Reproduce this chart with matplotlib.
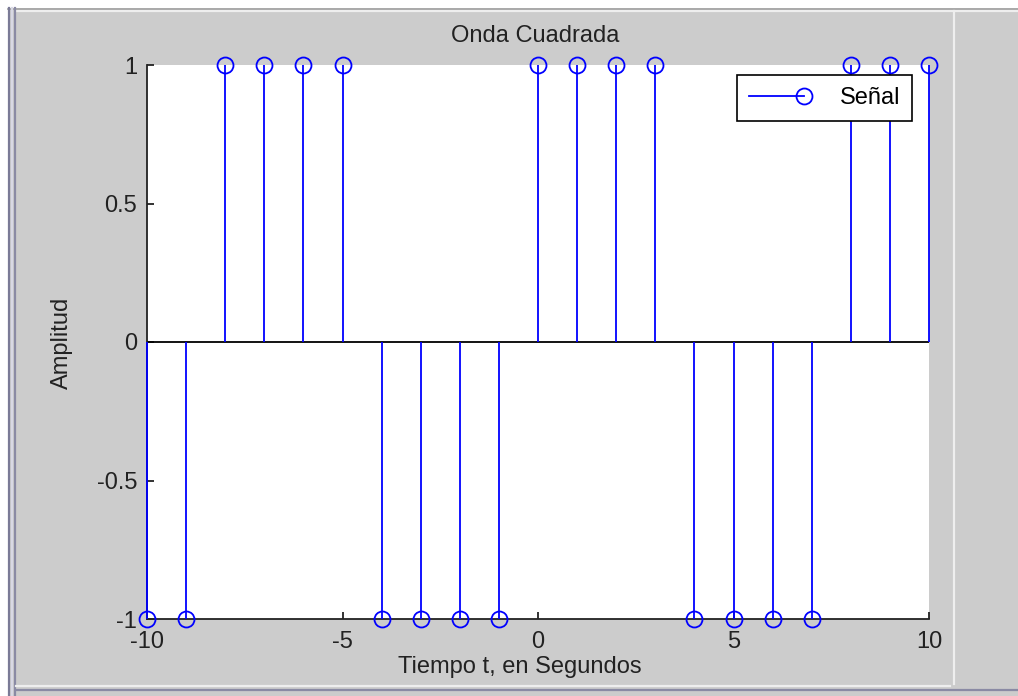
import numpy as np
import matplotlib.pyplot as plt
from matplotlib.lines import Line2D

# muestras de la onda cuadrada
t = np.arange(-10, 11)
senal = [-1, -1, 1, 1, 1, 1, -1, -1, -1, -1, 1, 1, 1, 1, -1, -1, -1, -1, 1, 1, 1]

plt.rcParams['font.family'] = ['Liberation Sans', 'DejaVu Sans']
txt = '#222222'

W, H = 1018, 696
fig = plt.figure(figsize=(W / 100, H / 100), dpi=100, facecolor='#cccccc')

# marco de la ventana
def hline(y, x0, x1, c, lw=1):
    fig.add_artist(Line2D([x0 / W, x1 / W], [1 - y / H, 1 - y / H], color=c, lw=lw))

def vline(x, y0, y1, c, lw=1):
    fig.add_artist(Line2D([x / W, x / W], [1 - y0 / H, 1 - y1 / H], color=c, lw=lw))

fig.add_artist(plt.Rectangle((0, 1 - 8 / H), 1, 8 / H, transform=fig.transFigure,
                             color='white', zorder=0))
fig.add_artist(plt.Rectangle((0, 0), 8 / W, 1, transform=fig.transFigure,
                             color='white', zorder=0))
hline(8.5, 8, W, '#999999', 1.2)
hline(11, 16, W, '#eeeeee', 1.6)
vline(9, 8, H, '#7a7a96', 1.6)
vline(12, 8, H, '#d8d8e4', 1.6)
vline(15, 8, H, '#8a8aa4', 1.6)
vline(953.5, 11, 684, '#eeeeee', 1.6)
hline(686, 16, 950, '#eeeeee', 1.6)
hline(690, 16, W, '#8a8aa4', 1.6)

ax = fig.add_axes([147 / W, 1 - 619 / H, (929 - 147) / W, (619 - 65) / H])

markerline, stemlines, baseline = ax.stem(t, senal, basefmt='k-')
plt.setp(stemlines, color='#0000ff', linewidth=1.3, clip_on=False, zorder=3)
plt.setp(markerline, color='#0000ff', marker='o', markersize=11.5,
         markerfacecolor='none', markeredgewidth=1.3, clip_on=False, zorder=4)
plt.setp(baseline, color='black', linewidth=1.3, zorder=2)

ax.set_xlim(-10, 10)
ax.set_ylim(-1, 1)
ax.set_xticks([-10, -5, 0, 5, 10])
ax.set_yticks([-1, -0.5, 0, 0.5, 1])
ax.set_yticklabels(['-1', '-0.5', '0', '0.5', '1'])
ax.set_xticklabels(['-10', '-5', '0', '5', '10'])

for s in ['top', 'right']:
    ax.spines[s].set_visible(False)
for s in ['left', 'bottom']:
    ax.spines[s].set_color(txt)
    ax.spines[s].set_linewidth(1.3)
ax.tick_params(direction='in', length=5, width=1.3, colors=txt, labelsize=17)
ax.tick_params(axis='y', pad=7)
ax.tick_params(axis='x', pad=9)

fig.text(535 / W, 1 - 36 / H, 'Onda Cuadrada', fontsize=17, color=txt,
         ha='center', va='center')
fig.text(520 / W, 1 - 667 / H, 'Tiempo t, en Segundos', fontsize=17, color=txt,
         ha='center', va='center')
fig.text(62 / W, 1 - 343 / H, 'Amplitud', fontsize=17, color=txt,
         ha='center', va='center', rotation=90)

handle = Line2D([], [], color='#0000ff', lw=1.3, marker='o', markersize=11.5,
                markerfacecolor='none', markeredgewidth=1.3)
leg = ax.legend([handle], ['Señal'], loc='upper right', fontsize=17, numpoints=1,
                frameon=True, fancybox=False, edgecolor='black', framealpha=1,
                borderpad=0.5, handlelength=2.35, handletextpad=1.5,
                borderaxespad=0, bbox_to_anchor=(912 / W, 1 - 75 / H),
                bbox_transform=fig.transFigure)
leg.get_frame().set_linewidth(1.2)
# el marcador va al final de la linea, como en MATLAB
for ln in leg.get_lines():
    ln.set_markevery([2])

fig.savefig('out.png', dpi=100, facecolor=fig.get_facecolor())
